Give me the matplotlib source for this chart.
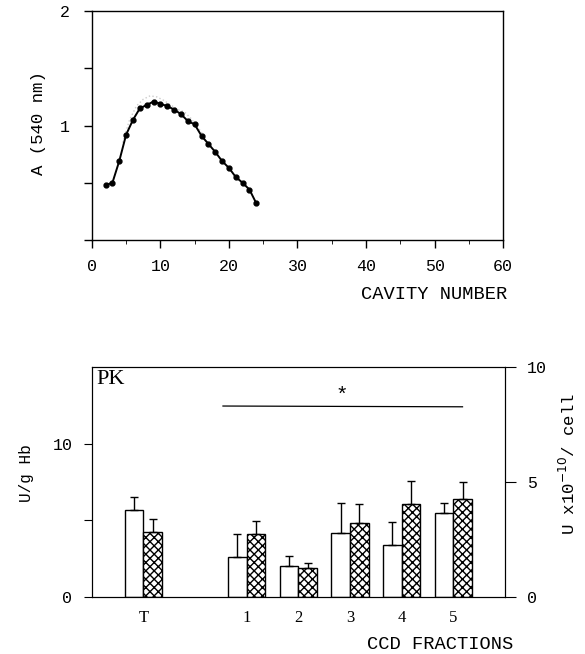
import numpy as np
import matplotlib.pyplot as plt

# top panel: absorbance profile
cavity = [2, 3, 4, 5, 6, 7, 8, 9, 10, 11, 12, 13, 14, 15, 16, 17, 18, 19, 20, 21, 22, 23, 24]
absorb = [0.48, 0.50, 0.69, 0.92, 1.05, 1.15, 1.18, 1.21, 1.19, 1.17, 1.14, 1.10, 1.04,
          1.01, 0.91, 0.84, 0.77, 0.69, 0.63, 0.55, 0.50, 0.44, 0.32]
faint_x = [4.5, 5.5, 6.5, 7.5, 8.5, 9.5, 10.5, 11.5, 12.5, 13.5, 14.5, 15.5, 16.5]
faint_y = [0.85, 1.05, 1.17, 1.23, 1.26, 1.25, 1.22, 1.18, 1.14, 1.12, 1.06, 0.98, 0.90]

# bottom panel: PK activity
groups = ['T', '1', '2', '3', '4', '5']
gpos = [0, 2, 3, 4, 5, 6]
hb_vals = [5.65, 2.6, 2.0, 4.15, 3.4, 5.5]
hb_err = [0.85, 1.5, 0.7, 1.95, 1.5, 0.6]
cell_vals = [4.25, 4.1, 1.9, 4.8, 6.05, 6.4]
cell_err = [0.85, 0.85, 0.3, 1.25, 1.5, 1.1]

mono = 'Liberation Mono'
serif = 'Liberation Serif'
W, H = 585, 654

fig = plt.figure(figsize=(5.85, 6.54), dpi=100)

ax1 = fig.add_axes([0.157, 0.633, 0.703, 0.350])
ax1.plot(faint_x, faint_y, color='0.8', lw=1.0, ls=':', zorder=1)
ax1.plot(cavity, absorb, '-o', color='black', lw=1.4, ms=3.5, zorder=2)
ax1.set_xlim(0, 60)
ax1.set_ylim(0, 2)
ax1.set_xticks(np.arange(0, 61, 10))
ax1.set_xticks(np.arange(5, 60, 10), minor=True)
ax1.set_yticks([0, 0.5, 1, 1.5, 2])
ax1.set_yticklabels(['', '', '1', '', '2'])
ax1.tick_params(axis='x', direction='out', length=6, width=1, labelsize=12, pad=8)
ax1.tick_params(axis='y', direction='out', length=6, width=1, labelsize=12, pad=10)
ax1.tick_params(which='minor', direction='out', length=3)
for lab in ax1.get_xticklabels() + ax1.get_yticklabels():
    lab.set_family(mono)
fig.text(38 / W, 1 - 123 / H, 'A (540 nm)', rotation=90, ha='center', va='center',
         family=mono, fontsize=12.5)
ax1.text(1.01, -0.2, 'CAVITY NUMBER', transform=ax1.transAxes, ha='right', va='top',
         family=mono, fontsize=13.5)
for s in ax1.spines.values():
    s.set_linewidth(1.0)

ax2 = fig.add_axes([0.157, 0.087, 0.706, 0.352])
w = 0.36
xw = [p - w / 2 for p in gpos]
xh = [p + w / 2 for p in gpos]
ax2.bar(xw, hb_vals, width=w, color='white', edgecolor='black', lw=1.0)
ax2.bar(xh, cell_vals, width=w, color='white', edgecolor='black', lw=1.0, hatch='xxxx')
ax2.errorbar(xw, hb_vals, yerr=[np.zeros(len(hb_err)), hb_err], fmt='none',
             ecolor='black', elinewidth=1.0, capsize=3, capthick=1.0)
ax2.errorbar(xh, cell_vals, yerr=[np.zeros(len(cell_err)), cell_err], fmt='none',
             ecolor='black', elinewidth=1.0, capsize=3, capthick=1.0)
ax2.plot([1.54, 6.18], [12.45, 12.4], color='black', lw=0.9)
ax2.text(3.84, 12.5, '*', ha='center', va='bottom', fontsize=15, family=mono)
ax2.text(0.012, 0.985, 'PK', transform=ax2.transAxes, ha='left', va='top',
         fontsize=16, family=serif)
ax2.set_xlim(-1, 7)
ax2.set_ylim(0, 15)
ax2.set_yticks([0, 5, 10])
ax2.set_yticklabels(['0', '', '10'])
ax2.set_xticks(gpos)
ax2.set_xticklabels(groups, family=serif, fontsize=12)
ax2.tick_params(axis='x', length=0, pad=9)
ax2.tick_params(axis='y', direction='out', length=6, labelsize=12, pad=8)
for lab in ax2.get_yticklabels():
    lab.set_family(mono)
fig.text(27 / W, 1 - 473 / H, 'U/g Hb', rotation=90, ha='center', va='center',
         family=mono, fontsize=11.5)
ax2.text(1.02, -0.17, 'CCD FRACTIONS', transform=ax2.transAxes, ha='right', va='top',
         family=mono, fontsize=13.5)

ax3 = ax2.twinx()
ax3.set_ylim(0, 10)
ax3.set_yticks([0, 5, 10])
ax3.tick_params(axis='y', direction='out', length=8, labelsize=12, pad=8)
for lab in ax3.get_yticklabels():
    lab.set_family(mono)
fig.text(568 / W, 1 - 464 / H, r'U x10$^{-10}$/ cell', rotation=90, ha='center',
         va='center', family=mono, fontsize=12.5)

fig.savefig('out.png', dpi=100)
